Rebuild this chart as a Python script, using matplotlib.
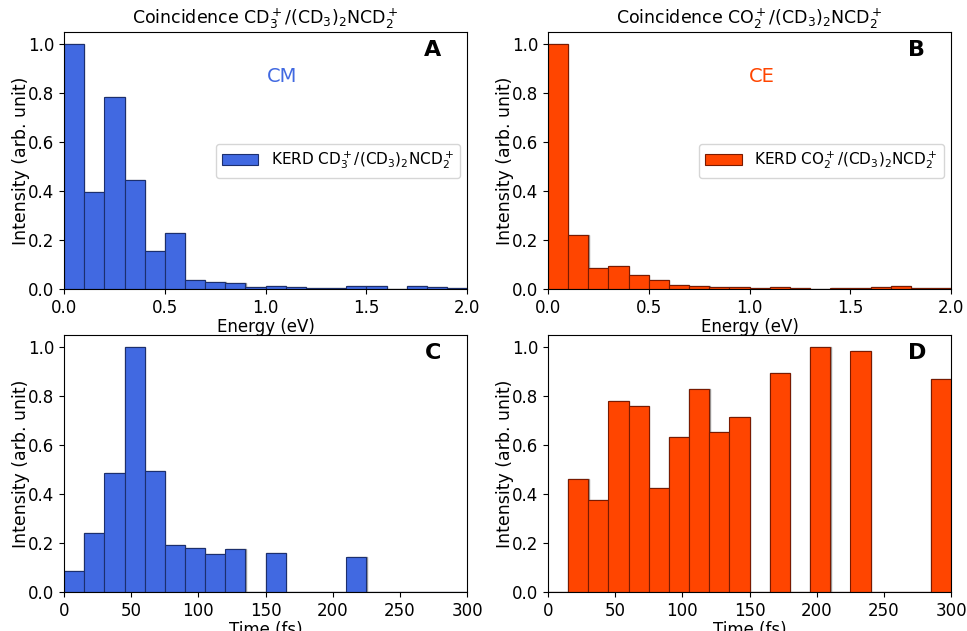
import numpy as np
import matplotlib
matplotlib.use("Agg")
import matplotlib.pyplot as plt

# energy bins (eV) and time bins (fs)
energy_edges = np.linspace(0, 2.0, 21)
time_edges = np.linspace(0, 300, 21)

kerd_cm = [1.0, 0.395, 0.785, 0.445, 0.156, 0.228, 0.038, 0.027, 0.023, 0.008,
           0.012, 0.007, 0.004, 0.004, 0.012, 0.012, 0.0, 0.012, 0.007, 0.003]
kerd_ce = [1.0, 0.221, 0.086, 0.094, 0.057, 0.037, 0.016, 0.014, 0.008, 0.0095,
           0.004, 0.007, 0.004, 0.001, 0.004, 0.005, 0.007, 0.011, 0.004, 0.004]

time_cm = [0.086, 0.241, 0.485, 1.0, 0.496, 0.192, 0.178, 0.155, 0.174, 0.0,
           0.158, 0.0, 0.0, 0.0, 0.142, 0.0, 0.0, 0.0, 0.0, 0.0]
time_ce = [0.0, 0.460, 0.376, 0.779, 0.760, 0.426, 0.632, 0.828, 0.655, 0.714,
           0.0, 0.894, 0.0, 1.0, 0.0, 0.984, 0.0, 0.0, 0.0, 0.869]

blue, blue_edge = "royalblue", "#1c2f6e"
red, red_edge = "orangered", "#7a1a00"

fig = plt.figure(figsize=(9.67, 6.31), dpi=100)
w, h = 0.417, 0.407
axA = fig.add_axes([0.0662, 0.542, w, h])
axB = fig.add_axes([0.5667, 0.542, w, h])
axC = fig.add_axes([0.0662, 0.0618, w, h])
axD = fig.add_axes([0.5667, 0.0618, w, h])


def draw_hist(ax, edges, vals, color, edge, label=None):
    widths = np.diff(edges)
    # faint grey outline slightly behind, as in the original
    ax.stairs(vals, edges + widths[0] * 0.012, baseline=None, color="0.6",
              linewidth=1.0, zorder=1)
    ax.bar(edges[:-1], vals, width=widths, align="edge", color=color,
           edgecolor=edge, linewidth=0.8, label=label, zorder=2)
    ax.set_ylim(0, 1.05)
    ax.set_yticks([0, 0.2, 0.4, 0.6, 0.8, 1.0])
    ax.set_ylabel("Intensity (arb. unit)", fontsize=12.5, labelpad=-1.5)
    ax.tick_params(labelsize=12)


draw_hist(axA, energy_edges, kerd_cm, blue, blue_edge,
          r"KERD CD$_3^+$/(CD$_3$)$_2$NCD$_2^+$")
draw_hist(axB, energy_edges, kerd_ce, red, red_edge,
          r"KERD CO$_2^+$/(CD$_3$)$_2$NCD$_2^+$")
draw_hist(axC, time_edges, time_cm, blue, blue_edge)
draw_hist(axD, time_edges, time_ce, red, red_edge)

for ax in (axA, axB):
    ax.set_xlim(0, 2.0)
    ax.set_xticks([0, 0.5, 1.0, 1.5, 2.0])
    ax.set_xlabel("Energy (eV)", fontsize=12, labelpad=1)
    ax.legend(loc="center right", fontsize=11, handlelength=2.4)
for ax in (axC, axD):
    ax.set_xlim(0, 300)
    ax.set_xticks([0, 50, 100, 150, 200, 250, 300])
    ax.set_xlabel("Time (fs)", fontsize=12, labelpad=1)

axA.set_title(r"Coincidence CD$_3^+$/(CD$_3$)$_2$NCD$_2^+$", fontsize=12.5)
axB.set_title(r"Coincidence CO$_2^+$/(CD$_3$)$_2$NCD$_2^+$", fontsize=12.5)

for ax, letter in zip((axA, axB, axC, axD), "ABCD"):
    ax.text(0.915, 0.93, letter, transform=ax.transAxes, fontsize=16,
            fontweight="bold", ha="center", va="center")

axA.text(0.54, 0.828, "CM", transform=axA.transAxes, color=blue, fontsize=14,
         ha="center", va="center")
axB.text(0.53, 0.828, "CE", transform=axB.transAxes, color=red, fontsize=14,
         ha="center", va="center")

fig.savefig("out.png", dpi=100)
